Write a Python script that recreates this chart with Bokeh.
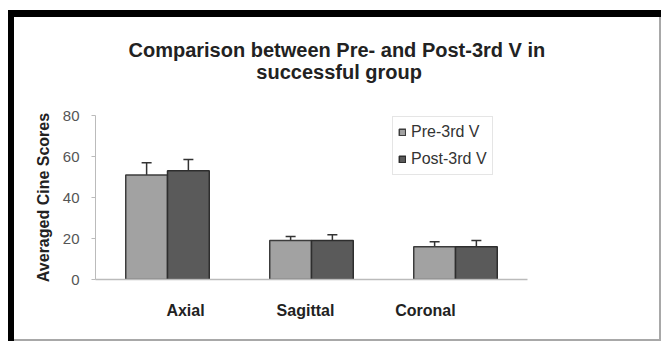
from bokeh.plotting import figure
from bokeh.models import (ColumnDataSource, Whisker, TeeHead, Legend, LegendItem,
                          Title, Range1d, LinearAxis, FixedTicker)
from bokeh.transform import dodge
from bokeh.embed import file_html
from bokeh.resources import INLINE

categories = ["Axial", "Sagittal", "Coronal"]
pre_values = [51, 19, 16]
post_values = [53, 19, 16]
pre_upper = [57, 21, 18.4]
post_upper = [58.5, 21.8, 19]
series_names = ["Pre-3rd V", "Post-3rd V"]
y_ticks = [0, 20, 40, 60, 80]
title_lines = ["Comparison between Pre- and Post-3rd V in", "successful group"]

xpos = [i + 0.5 for i in range(len(categories))]
src = ColumnDataSource(dict(x=xpos, cat=categories, pre=pre_values, post=post_values,
                            pre_up=pre_upper, post_up=post_upper))

FONT = "Liberation Sans"
W, H = 661, 341
p = figure(width=W, height=H, x_range=Range1d(0, len(categories)),
           y_range=(0, 80), output_backend="svg", toolbar_location=None,
           min_border_left=95, min_border_right=134, min_border_top=115, min_border_bottom=62,
           styles={"box-shadow": "inset 8px 10px 0 0 white, inset 14px 17px 0 0 black, "
                                 "inset -2px -2px 0 0 #a8a8a8"})
p.border_fill_color = None
p.title = None
# two centred lines: the second line is indented so both share one centre
title_text = title_lines[0] + "\n" + "\u00a0" * 23 + title_lines[1]
t = Title(text=title_text, align="left", text_font=FONT, text_font_size="20px",
          text_font_style="bold", text_color="#222", offset=33, standoff=66)
p.add_layout(t, "above")

p.grid.visible = False
p.outline_line_color = None
p.background_fill_color = "white"

r1 = p.vbar(x=dodge("x", -0.145), top="pre", width=0.29, source=src,
            fill_color="#a2a2a2", line_color="#3c3c3c", line_width=1.5)
r2 = p.vbar(x=dodge("x", 0.145), top="post", width=0.29, source=src,
            fill_color="#5a5a5a", line_color="#2e2e2e", line_width=1.5)

for xoff, base_col, up_col in [(-0.145, "pre", "pre_up"), (0.145, "post", "post_up")]:
    w = Whisker(base=dodge("x", xoff), upper=up_col, lower=base_col, source=src,
                dimension="height", line_color="#333", line_width=1.5,
                upper_head=TeeHead(size=10, line_color="#333", line_width=1.5), lower_head=None)
    p.add_layout(w)

yax = p.yaxis[0]
yax.ticker = y_ticks
yax.axis_label = "Averaged Cine Scores"
yax.axis_label_text_font = FONT
yax.axis_label_text_font_size = "16px"
yax.axis_label_text_font_style = "bold"
yax.axis_label_text_color = "#222"
yax.axis_label_standoff = 8
yax.major_label_text_font = FONT
yax.major_label_text_font_size = "15px"
yax.major_label_text_color = "#555"
yax.axis_line_color = "#bbb"
yax.major_tick_line_color = "#bbb"
yax.major_tick_out = 4
yax.major_tick_in = 0
yax.minor_tick_line_color = None
yax.major_label_standoff = 12

# baseline axis, labels carried by a second axis placed as in the original
xax = p.xaxis[0]
xax.ticker = FixedTicker(ticks=[])
xax.axis_line_color = "#bbb"
xax.axis_line_width = 1.5
xax.major_tick_line_color = None
xax.minor_tick_line_color = None

p.extra_x_ranges = {"labels": Range1d(-0.25, 3.35)}
lab_axis = LinearAxis(x_range_name="labels",
                      ticker=FixedTicker(ticks=xpos),
                      major_label_overrides={xv: c for xv, c in zip(xpos, categories)},
                      axis_line_color=None, major_tick_line_color=None, minor_tick_line_color=None,
                      major_label_text_font=FONT, major_label_text_font_size="16px",
                      major_label_text_font_style="bold", major_label_text_color="#222",
                      major_label_standoff=16)
p.add_layout(lab_axis, "below")

legend = Legend(items=[LegendItem(label=series_names[0], renderers=[r1]),
                       LegendItem(label=series_names[1], renderers=[r2])],
                location=(297, 104), label_text_font=FONT, label_text_font_size="16px",
                label_text_color="#333", glyph_width=8, glyph_height=8,
                border_line_color="#ccc", padding=5, spacing=7, label_standoff=5,
                margin=0, label_height=20)
p.add_layout(legend)

open("out.html", "w").write(file_html(p, INLINE))
